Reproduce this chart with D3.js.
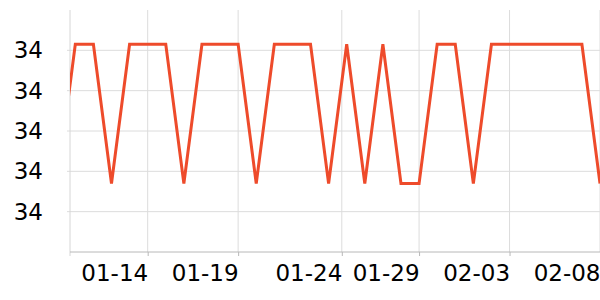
<!DOCTYPE html>
<html>
<head>
<meta charset="utf-8">
<script src="https://cdn.jsdelivr.net/npm/d3@7"></script>
<style>
  html, body { margin: 0; padding: 0; background: #fff; }
  svg { display: block; }
  text { font-family: "DejaVu Sans", sans-serif; }
</style>
</head>
<body>
<svg id="chart" width="600" height="300"></svg>
<script>
// ---- data ----
const dates = [
  "2024-01-09","2024-01-10","2024-01-11","2024-01-12","2024-01-13","2024-01-14",
  "2024-01-15","2024-01-16","2024-01-17","2024-01-18","2024-01-19","2024-01-20",
  "2024-01-21","2024-01-22","2024-01-23","2024-01-24","2024-01-25","2024-01-26",
  "2024-01-27","2024-01-28","2024-01-29","2024-01-30","2024-01-31","2024-02-01",
  "2024-02-02","2024-02-03","2024-02-04","2024-02-05","2024-02-06","2024-02-07",
  "2024-02-08"
];
const values = [
  33.74, 34.43, 34.43, 33.74, 34.43, 34.43,
  34.43, 33.74, 34.43, 34.43, 34.43, 33.74,
  34.43, 34.43, 34.43, 33.74, 34.43, 33.74,
  34.43, 33.74, 33.74, 34.43, 34.43, 33.74,
  34.43, 34.43, 34.43, 34.43, 34.43, 34.43,
  33.74
];
const xDomain = ["2024-01-09T16:58", "2024-02-08T00:00"];
const xTickValues = ["2024-01-14", "2024-01-19", "2024-01-24T17:30", "2024-01-29", "2024-02-03", "2024-02-08"];
const yDomain = [33.4, 34.6];
const yTickValues = [33.6, 33.8, 34.0, 34.2, 34.4];

// ---- layout ----
const W = 600, H = 300;
const margin = { top: 10, right: 0, bottom: 48, left: 70 };
const iw = W - margin.left - margin.right;
const ih = H - margin.top - margin.bottom;

const parseD = d3.utcParse("%Y-%m-%d");
const parseDT = d3.utcParse("%Y-%m-%dT%H:%M");
const p = s => parseDT(s) || parseD(s);

const data = dates.map((d, i) => ({ date: p(d), value: values[i] }));

const svg = d3.select("#chart");
const g = svg.append("g").attr("transform", `translate(${margin.left},${margin.top})`);

const x = d3.scaleUtc().domain(xDomain.map(p)).range([0, iw]);
const y = d3.scaleLinear().domain(yDomain).range([ih, 0]);

// grid lines
g.append("g").selectAll("line").data(yTickValues).join("line")
  .attr("x1", -3).attr("x2", iw)
  .attr("y1", d => y(d)).attr("y2", d => y(d))
  .attr("stroke", "#dcdcdc").attr("stroke-width", 1);

g.append("g").selectAll("line").data(xTickValues.map(p)).join("line")
  .attr("x1", d => x(d)).attr("x2", d => x(d))
  .attr("y1", 0).attr("y2", ih)
  .attr("stroke", "#dcdcdc").attr("stroke-width", 1);

// left axis line
g.append("line").attr("x1", 0).attr("x2", 0).attr("y1", 0).attr("y2", ih + 4)
  .attr("stroke", "#d6d6d6").attr("stroke-width", 1);

// x axis
const xAxis = d3.axisBottom(x)
  .tickValues(xTickValues.map(p))
  .tickFormat(d3.utcFormat("%m-%d"))
  .tickSize(4).tickPadding(9);
const xg = g.append("g").attr("transform", `translate(0,${ih})`).call(xAxis);
xg.select(".domain").attr("stroke", "#b8b8b8").attr("d", `M0,0H${iw}`);
xg.selectAll(".tick line").attr("stroke", "#b8b8b8");
xg.selectAll(".tick text")
  .attr("text-anchor", "end")
  .attr("fill", "#000")
  .style("font-size", "23px")
  .style("font-family", "DejaVu Sans, sans-serif");

// y axis labels
const yAxis = d3.axisLeft(y)
  .tickValues(yTickValues)
  .tickFormat(d3.format("d"))
  .tickSize(0).tickPadding(27);
const yg = g.append("g").call(yAxis);
yg.select(".domain").remove();
yg.selectAll(".tick text")
  .attr("fill", "#000")
  .style("font-size", "23px")
  .style("font-family", "DejaVu Sans, sans-serif");

// clip
svg.append("defs").append("clipPath").attr("id", "plotclip")
  .append("rect").attr("x", 0).attr("y", -5).attr("width", iw).attr("height", ih + 10);

// line
const line = d3.line().x(d => x(d.date)).y(d => y(d.value));
g.append("path")
  .datum(data)
  .attr("clip-path", "url(#plotclip)")
  .attr("fill", "none")
  .attr("stroke", "#ee4b2b")
  .attr("stroke-width", 3)
  .attr("stroke-linejoin", "miter")
  .attr("d", line);
</script>
</body>
</html>
